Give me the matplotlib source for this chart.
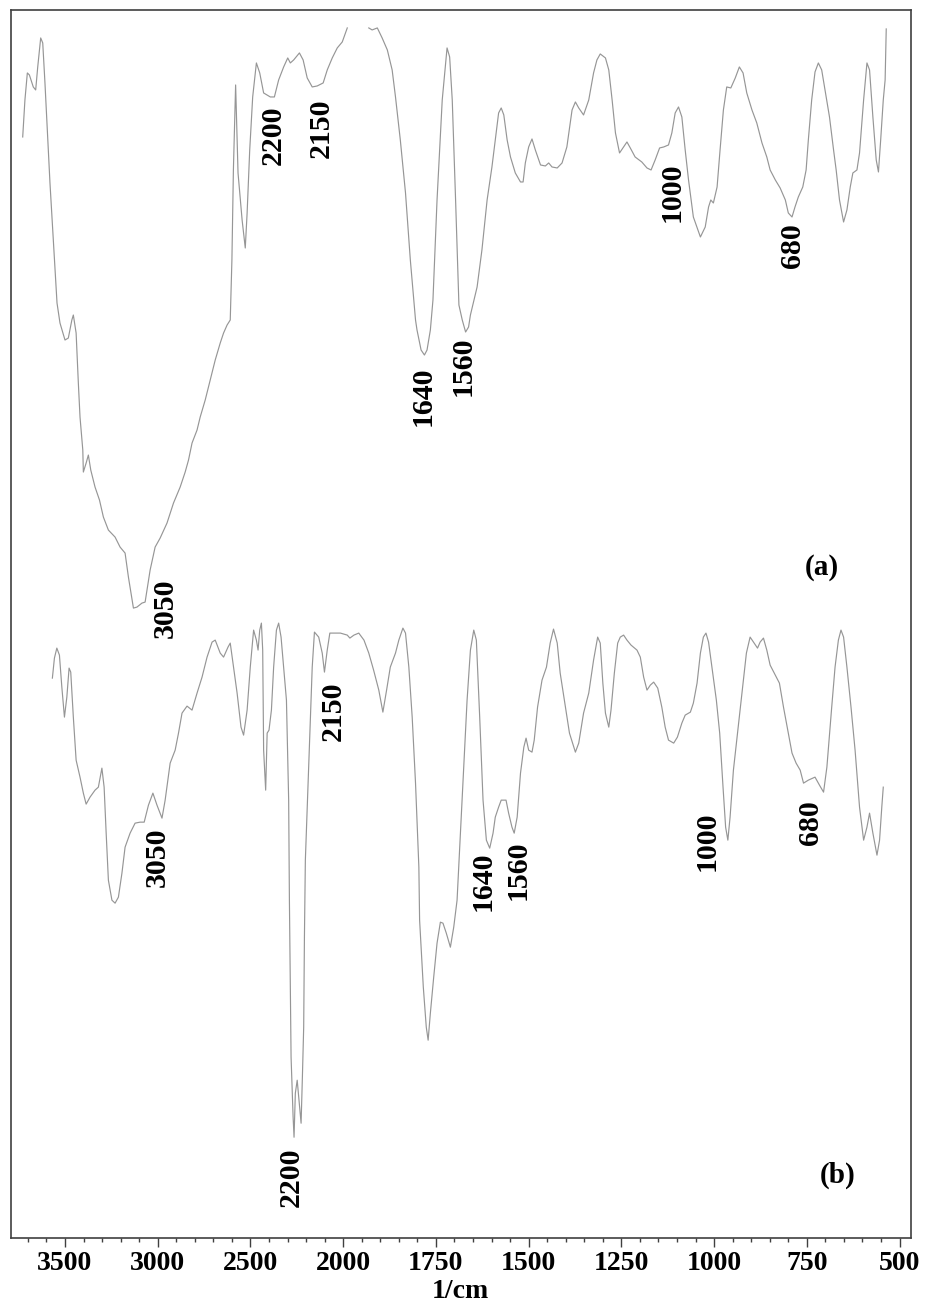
import numpy as np
import matplotlib
matplotlib.use('Agg')
import matplotlib.pyplot as plt
from matplotlib.ticker import FixedLocator, FixedFormatter

# spectrum (a) - wavenumber (1/cm) and transmittance (arb. units)
wn_a = [3728, 3716, 3703, 3692, 3671, 3658, 3647, 3631, 3620, 3608,
        3581, 3554, 3543, 3527, 3500, 3482, 3463, 3455, 3440, 3428,
        3419, 3404, 3401, 3386, 3374, 3361, 3338, 3314, 3293, 3266,
        3230, 3203, 3176, 3158, 3131, 3112, 3085, 3068, 3058, 3041,
        3014, 2987, 2950, 2915, 2879, 2852, 2834, 2815, 2788, 2771,
        2744, 2717, 2690, 2663, 2645, 2626, 2609, 2600, 2592, 2580,
        2567, 2545, 2528, 2518, 2504, 2488, 2468, 2450, 2429, 2393,
        2371, 2348, 2321, 2299, 2285, 2267, 2236, 2216, 2194, 2167,
        2140, 2108, 2086, 2059, 2032, 2005, 1989, 1960, 1931, 1922,
        1908, 1895, 1881, 1868, 1859, 1846, 1832, 1819, 1805, 1801,
        1790, 1781, 1774, 1765, 1758, 1747, 1733, 1720, 1713, 1706,
        1697, 1688, 1679, 1670, 1662, 1657, 1639, 1626, 1612, 1599,
        1590, 1581, 1574, 1567, 1558, 1549, 1536, 1522, 1515, 1509,
        1500, 1491, 1482, 1468, 1455, 1446, 1437, 1423, 1410, 1397,
        1383, 1374, 1365, 1352, 1338, 1325, 1316, 1307, 1293, 1284,
        1275, 1266, 1255, 1244, 1235, 1226, 1213, 1195, 1181, 1170,
        1159, 1147, 1136, 1123, 1114, 1105, 1096, 1087, 1078, 1069,
        1056, 1037, 1024, 1015, 1009, 1002, 992, 984, 975, 966,
        955, 943, 932, 922, 912, 898, 885, 871, 858, 849,
        835, 822, 808, 800, 790, 782, 773, 761, 752, 746,
        737, 728, 719, 710, 701, 689, 678, 671, 662, 651,
        642, 633, 626, 615, 608, 597, 588, 581, 572, 563,
        557, 551, 544, 539, 536]
t_a = [110.1, 113.8, 116.5, 116.3, 115.1, 114.8, 117.1, 120.0, 119.5, 115.5,
       105.5, 97.1, 93.5, 91.5, 89.8, 90.0, 91.8, 92.3, 90.5, 85.5,
       82.1, 78.8, 76.6, 77.5, 78.3, 76.8, 75.1, 73.8, 72.1, 70.8,
       70.1, 69.1, 68.5, 66.1, 63.0, 63.1, 63.5, 63.6, 64.8, 66.8,
       69.1, 70.0, 71.5, 73.5, 75.1, 76.6, 77.8, 79.5, 80.8, 82.1,
       83.8, 85.8, 87.8, 89.5, 90.5, 91.3, 91.8, 97.8, 106.8, 115.3,
       106.5, 101.8, 99.0, 102.5, 108.8, 114.1, 117.5, 116.5, 114.5, 114.1,
       114.1, 115.8, 117.1, 118.0, 117.5, 117.8, 118.5, 117.8, 116.0, 115.1,
       115.2, 115.5, 116.8, 118.0, 119.0, 119.6, 121.0, np.nan, 121.0, 120.8,
       121.0, 120.0, 118.8, 116.8, 114.1, 109.8, 104.5, 97.8, 91.8, 90.8,
       88.8, 88.3, 88.8, 90.8, 93.8, 103.8, 113.8, 119.0, 118.1, 113.8,
       103.8, 93.3, 91.8, 90.6, 91.1, 92.3, 95.1, 98.8, 103.8, 107.1,
       109.8, 112.5, 113.0, 112.3, 109.8, 108.1, 106.5, 105.6, 105.6, 107.5,
       109.1, 109.9, 108.8, 107.3, 107.2, 107.5, 107.1, 107.0, 107.5, 109.1,
       112.8, 113.6, 113.0, 112.3, 113.8, 116.5, 117.8, 118.4, 118.0, 116.8,
       113.8, 110.5, 108.5, 109.1, 109.6, 109.0, 108.1, 107.6, 107.0, 106.8,
       107.8, 109.0, 109.1, 109.3, 110.5, 112.5, 113.1, 112.1, 108.8, 105.8,
       102.1, 100.1, 101.1, 103.1, 103.8, 103.5, 105.1, 108.8, 112.8, 115.1,
       115.0, 116.0, 117.1, 116.5, 114.5, 112.8, 111.5, 109.5, 108.1, 106.8,
       105.8, 105.0, 103.8, 102.5, 102.1, 103.1, 104.1, 105.1, 106.8, 109.8,
       113.8, 116.6, 117.5, 116.8, 114.8, 112.1, 108.8, 106.8, 103.8, 101.6,
       102.8, 105.1, 106.5, 106.8, 108.5, 113.8, 117.5, 116.8, 112.1, 107.8,
       106.6, 109.8, 113.8, 115.8, 120.9]

# spectrum (b)
wn_b = [3568, 3557, 3544, 3530, 3517, 3503, 3490, 3478, 3469, 3455,
        3440, 3419, 3401, 3386, 3365, 3338, 3320, 3301, 3289, 3278,
        3266, 3247, 3230, 3212, 3193, 3176, 3149, 3122, 3095, 3073,
        3050, 3026, 3004, 2977, 2960, 2933, 2906, 2888, 2869, 2842,
        2815, 2788, 2761, 2734, 2707, 2690, 2663, 2645, 2621, 2609,
        2591, 2572, 2551, 2537, 2518, 2501, 2483, 2468, 2459, 2450,
        2441, 2434, 2429, 2418, 2410, 2400, 2387, 2375, 2360, 2348,
        2335, 2321, 2306, 2294, 2290, 2281, 2270, 2265, 2258, 2248,
        2238, 2227, 2220, 2213, 2209, 2204, 2186, 2167, 2155, 2132,
        2113, 2101, 2086, 2072, 2051, 2015, 1989, 1982, 1971, 1958,
        1944, 1931, 1918, 1904, 1893, 1883, 1873, 1859, 1850, 1839,
        1832, 1823, 1814, 1805, 1796, 1794, 1784, 1776, 1771, 1765,
        1756, 1747, 1738, 1731, 1722, 1711, 1702, 1693, 1684, 1675,
        1666, 1657, 1648, 1641, 1632, 1623, 1614, 1605, 1596, 1590,
        1581, 1574, 1561, 1554, 1545, 1539, 1531, 1522, 1513, 1507,
        1500, 1491, 1485, 1476, 1464, 1452, 1442, 1433, 1423, 1415,
        1401, 1390, 1374, 1365, 1352, 1338, 1325, 1314, 1307, 1300,
        1293, 1284, 1278, 1269, 1260, 1253, 1244, 1235, 1224, 1208,
        1199, 1190, 1181, 1172, 1163, 1152, 1141, 1132, 1123, 1109,
        1099, 1087, 1078, 1064, 1056, 1046, 1037, 1029, 1022, 1015,
        1006, 994, 985, 976, 969, 963, 957, 948, 937, 925,
        913, 903, 894, 883, 876, 867, 858, 849, 835, 824,
        813, 800, 790, 779, 768, 759, 746, 728, 716, 705,
        696, 683, 674, 665, 658, 651, 642, 631, 620, 608,
        597, 588, 581, 572, 561, 554, 548, 544]
t_b = [56.0, 58.0, 59.0, 58.3, 55.1, 52.1, 54.1, 57.0, 56.6, 52.1,
       47.8, 46.1, 44.5, 43.4, 44.1, 44.8, 45.1, 47.0, 45.1, 40.5,
       35.8, 33.8, 33.5, 34.1, 36.5, 39.1, 40.5, 41.5, 41.6, 41.6,
       43.3, 44.5, 43.3, 42.0, 43.8, 47.5, 48.8, 50.5, 52.5, 53.2,
       52.8, 54.5, 56.1, 58.1, 59.6, 59.8, 58.5, 58.1, 59.1, 59.5,
       57.1, 54.5, 51.1, 50.3, 52.8, 57.1, 60.8, 59.8, 58.8, 60.8,
       61.5, 58.8, 48.8, 44.8, 50.5, 50.8, 52.8, 57.1, 60.8, 61.5,
       60.1, 57.1, 53.8, 43.8, 33.8, 18.1, 12.1, 10.1, 14.5, 15.8,
       13.8, 11.5, 16.1, 21.1, 30.1, 37.8, 47.1, 57.1, 60.6, 60.1,
       58.5, 56.6, 58.8, 60.5, 60.5, 60.5, 60.3, 60.0, 60.3, 60.5,
       59.8, 58.5, 56.8, 54.8, 52.6, 54.8, 57.1, 58.5, 59.8, 61.0,
       60.5, 57.1, 52.1, 45.5, 37.1, 31.8, 25.1, 21.1, 19.8, 22.5,
       26.1, 29.5, 31.6, 31.5, 30.5, 29.1, 31.1, 33.8, 40.5, 47.1,
       53.8, 58.8, 60.8, 59.8, 52.1, 43.8, 39.8, 39.0, 40.5, 42.1,
       43.1, 43.8, 43.8, 42.5, 41.1, 40.5, 42.1, 46.5, 49.1, 50.0,
       48.8, 48.6, 49.8, 53.1, 55.8, 57.1, 59.5, 60.9, 59.5, 56.5,
       53.1, 50.5, 48.6, 49.5, 52.5, 54.5, 57.8, 60.1, 59.5, 55.5,
       52.5, 51.1, 52.8, 56.5, 59.5, 60.1, 60.3, 59.8, 59.3, 58.8,
       58.1, 56.1, 54.8, 55.3, 55.6, 55.0, 53.1, 51.1, 49.8, 49.5,
       50.1, 51.5, 52.3, 52.6, 53.5, 55.5, 58.5, 60.1, 60.5, 59.6,
       57.1, 53.8, 50.5, 45.1, 41.1, 39.8, 42.1, 46.8, 50.5, 54.5,
       58.5, 60.1, 59.6, 59.0, 59.6, 60.0, 58.8, 57.3, 56.3, 55.5,
       53.1, 50.5, 48.5, 47.5, 46.8, 45.5, 45.8, 46.1, 45.3, 44.6,
       47.1, 53.1, 57.1, 59.8, 60.8, 60.1, 57.1, 53.1, 48.8, 43.1,
       39.8, 41.1, 42.5, 40.5, 38.3, 39.8, 43.1, 45.1]

# peak labels
peaks_a = ['2200', '2150', '1640', '1560', '1000', '680', '3050']
peak_wn_a = [2376, 2118, 1784, 1676, 1113, 788, 2960]
peak_t_a = [110.3, 111.0, 84.2, 87.2, 104.6, 99.2, 63.0]

peaks_b = ['3050', '2150', '2200', '1640', '1560', '1000', '680']
peak_wn_b = [3000, 2052, 2279, 1622, 1528, 1019, 741]
peak_t_b = [38.1, 52.7, 6.1, 35.7, 36.8, 39.7, 41.6]

panel_names = ['(a)', '(b)']
panel_wn = [710, 666]
panel_t = [67.1, 6.3]

major_ticks = [3500, 3000, 2500, 2000, 1750, 1500, 1250, 1000, 750, 500]


# FTIR x axis: scale doubles below 2000 1/cm
def fwd(x):
    x = np.asarray(x, dtype=float)
    return np.where(x >= 2000, (x - 2000) / 500.0, (x - 2000) / 250.0)


def inv(u):
    u = np.asarray(u, dtype=float)
    return np.where(u >= 0, 2000 + 500.0 * u, 2000 + 250.0 * u)


plt.rcParams['font.family'] = ['Liberation Serif', 'DejaVu Serif']
plt.rcParams['font.weight'] = 'bold'

fig = plt.figure(figsize=(9.26, 13.07), dpi=100)
ax = fig.add_axes([0.0119, 0.0526, 0.9716, 0.9398])

line_col = '#969696'
ax.plot(wn_a, t_a, color=line_col, lw=0.85)
ax.plot(wn_b, t_b, color=line_col, lw=0.85)

ax.set_xscale('function', functions=(fwd, inv))
ax.set_xlim(3791, 470)
ax.set_ylim(0, 122.8)

minor = list(range(3700, 2000, -100)) + list(range(1950, 450, -50))
minor = [m for m in minor if m not in major_ticks]
ax.xaxis.set_major_locator(FixedLocator(major_ticks))
ax.xaxis.set_major_formatter(FixedFormatter([str(m) for m in major_ticks]))
ax.xaxis.set_minor_locator(FixedLocator(minor))
ax.tick_params(axis='x', which='major', direction='out', length=6.5, width=1.0,
               color='#404040', labelsize=20, pad=3)
ax.tick_params(axis='x', which='minor', direction='out', length=3, width=1.0,
               color='#404040')
ax.set_yticks([])
for lbl in ax.get_xticklabels():
    lbl.set_fontweight('bold')

for sp in ax.spines.values():
    sp.set_color('#404040')
    sp.set_linewidth(1.2)

ax.set_xlabel('1/cm', fontsize=20, fontweight='bold', labelpad=2)

# peak annotations
for s, x, y in zip(peaks_a, peak_wn_a, peak_t_a):
    ax.text(x, y, s, rotation=90, ha='center', va='center', fontsize=21.5, fontweight='bold')
for s, x, y in zip(peaks_b, peak_wn_b, peak_t_b):
    ax.text(x, y, s, rotation=90, ha='center', va='center', fontsize=21.5, fontweight='bold')

for s, x, y in zip(panel_names, panel_wn, panel_t):
    ax.text(x, y, s, ha='center', va='center', fontsize=21, fontweight='bold')

fig.savefig('out.png', dpi=100)
